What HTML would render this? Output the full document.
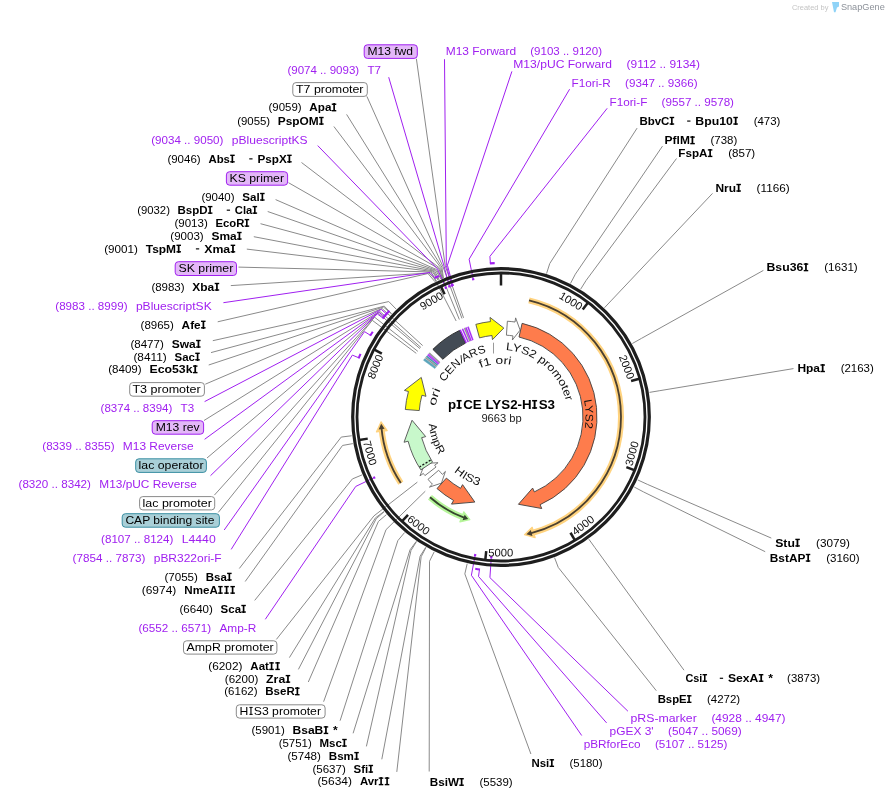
<!DOCTYPE html>
<html><head><meta charset="utf-8"><style>html,body{margin:0;padding:0;background:#fff;width:889px;height:799px;overflow:hidden}</style></head>
<body>
<svg width="889" height="799" viewBox="0 0 889 799" style="will-change:transform;position:absolute;left:0;top:0;font-family:'Liberation Sans',sans-serif">
<rect width="889" height="799" fill="#fff"/>
<g fill="none" stroke="#8a8a8a" stroke-width="1">
<path d="M416.4,58.8 L445.23,265.97 L463.57,317.83"/>
<path d="M366.9,96.4 L443.03,266.8 L461.96,318.45"/>
<path d="M346.6,114.4 L441.93,267.23 L443.4,277.96"/>
<path d="M333.9,126.5 L440.83,267.66 L443.04,278.11"/>
<path d="M301.5,162.5 L439.74,268.11 L442.23,278.45"/>
<path d="M288.5,182.7 L438.65,268.56 L459.35,319.52"/>
<path d="M275.6,199.6 L436.49,269.49 L441.69,278.68"/>
<path d="M267.7,211.5 L435.41,269.97 L440.97,278.99"/>
<path d="M260.5,223.7 L434.33,270.45 L439.27,279.74"/>
<path d="M253.8,236.7 L433.26,270.94 L438.38,280.15"/>
<path d="M246.8,249.1 L432.2,271.44 L438.2,280.23"/>
<path d="M238.5,267.1 L431.13,271.95 L456.14,320.96"/>
<path d="M230.8,285.6 L429.02,272.99 L436.6,280.97"/>
<path d="M217.7,321.8 L427.96,273.52 L435.01,281.74"/>
<path d="M212.8,340.7 L388.79,301.55 L396.1,309.08"/>
<path d="M211,352.6 L384.27,306.12 L391.57,313.68"/>
<path d="M208.7,365 L383.46,306.97 L391.44,313.82"/>
<path d="M205.3,384.2 L382.06,308.49 L422.66,345.59"/>
<path d="M204,420.5 L379.62,311.22 L420.97,347.5"/>
<path d="M207,458 L378.08,313.02 L419.98,348.65"/>
<path d="M214.4,495.1 L374.63,317.24 L417.8,351.32"/>
<path d="M218.3,512.4 L372.27,320.31 L416.25,353.34"/>
<path d="M239.3,568.5 L341.26,437.07 L351.67,435.76"/>
<path d="M245.2,581.5 L342.53,445.46 L352.87,443.6"/>
<path d="M254.7,600.4 L352.39,478.93 L362.08,474.89"/>
<path d="M276.4,639.4 L373.95,515.9 L417.36,482.11"/>
<path d="M289.4,657.6 L375.47,517.81 L383.94,511.59"/>
<path d="M298.4,669.4 L376.21,518.73 L384.07,511.75"/>
<path d="M308.3,682 L378.45,521.41 L386.44,514.61"/>
<path d="M323.6,701.7 L386.01,529.68 L425.29,491.19"/>
<path d="M340.1,720.7 L397.85,540.61 L404.57,532.55"/>
<path d="M353.1,733.3 L410.02,549.83 L416.28,541.39"/>
<path d="M366.4,746.4 L410.99,550.49 L416.53,541.56"/>
<path d="M381.8,759.3 L420.1,556.2 L425.73,547.32"/>
<path d="M396.8,771.9 L421.13,556.79 L425.98,547.47"/>
<path d="M637.1,128.1 L549.74,263.55 L546.56,273.56"/>
<path d="M662.5,146.1 L575.33,274.18 L570.48,283.5"/>
<path d="M676.5,158.5 L586.15,280.36 L580.59,289.27"/>
<path d="M712.5,193.4 L611.7,300.1 L604.48,307.72"/>
<path d="M763.4,270.4 L641.49,338.37 L632.33,343.49"/>
<path d="M793.5,368.6 L659.83,390.66 L649.47,392.38"/>
<path d="M771.3,538.1 L647.26,484.3 L637.72,479.91"/>
<path d="M765.2,551.7 L643.51,491.91 L634.22,487.02"/>
<path d="M684,670.2 L594.97,547.73 L588.84,539.2"/>
<path d="M656.3,690.7 L558.29,567.46 L554.55,557.65"/>
<path d="M530.9,754 L464.83,573.88 L467.19,563.65"/>
<path d="M429.2,771.5 L429.52,561.26 L434.18,551.85"/>
</g>
<g fill="none" stroke="#a020f0" stroke-width="1">
<path d="M388.7,77.2 L444.13,266.38 L449.3,286.36"/>
<path d="M317.7,145.6 L437.57,269.02 L445.8,287.8"/>
<path d="M223.4,302.7 L430.07,272.47 L435.1,277.81"/>
<path d="M204.6,401.6 L381.27,309.37 L386.52,314"/>
<path d="M204.6,439.3 L378.85,312.12 L384.2,316.63"/>
<path d="M210.5,475.7 L377.33,313.92 L382.97,318.08"/>
<path d="M224.2,530 L364.51,331.61 L370.44,335.32"/>
<path d="M231.2,549.4 L352.37,355.12 L358.83,357.81"/>
<path d="M265.3,619.3 L355.74,486.43 L374.24,477.59"/>
<path d="M444.5,59.2 L446.34,265.56 L451.69,285.44"/>
<path d="M511.9,71.4 L447.45,265.17 L452.67,285.07"/>
<path d="M569.6,89.2 L469.13,259.19 L473.18,279.28"/>
<path d="M607.2,108.3 L489.91,256.38 L490.39,263.37"/>
<path d="M627.9,711.2 L489.91,577.62 L491.32,557.17"/>
<path d="M606.6,722.9 L478.51,576.42 L479.49,569.49"/>
<path d="M581.7,735.5 L471.39,575.25 L475.16,555.1"/>
</g>
<g fill="none" stroke="#a020f0" stroke-width="2.1">
<path d="M448.28,286.77 A140.5,140.5 0 0 1 450.33,285.95"/>
<path d="M444.78,288.24 A140.5,140.5 0 0 1 446.81,287.37"/>
<path d="M434.62,278.04 A154,154 0 0 1 439.02,276.02"/>
<path d="M386.16,314.4 A154,154 0 0 1 389.44,310.84"/>
<path d="M383.85,317.04 A154,154 0 0 1 387.05,313.41"/>
<path d="M382.63,318.49 A154,154 0 0 1 385.78,314.82"/>
<path d="M370.16,335.78 A154,154 0 0 1 372.78,331.71"/>
<path d="M358.62,358.3 A154,154 0 0 1 360.54,353.86"/>
<path d="M374.72,478.59 A140.5,140.5 0 0 1 373.77,476.6"/>
<path d="M450.66,285.83 A140.5,140.5 0 0 1 452.72,285.05"/>
<path d="M451.64,285.46 A140.5,140.5 0 0 1 453.71,284.7"/>
<path d="M472.1,279.5 A140.5,140.5 0 0 1 474.27,279.07"/>
<path d="M489.86,263.4 A154,154 0 0 1 494.69,263.13"/>
<path d="M492.42,557.24 A140.5,140.5 0 0 1 490.22,557.09"/>
<path d="M480.02,569.56 A154,154 0 0 1 475.24,568.83"/>
<path d="M476.24,555.3 A140.5,140.5 0 0 1 474.07,554.9"/>
</g>
<circle cx="501" cy="417" r="148.3" fill="none" stroke="#1e1e1e" stroke-width="3.2"/>
<circle cx="501" cy="417" r="144.0" fill="none" stroke="#1e1e1e" stroke-width="2.8"/>
<g stroke="#1e1e1e" stroke-width="2.5">
<line x1="501" y1="273.5" x2="501" y2="285.5"/>
<line x1="587.87" y1="302.78" x2="582.73" y2="309.55"/>
<line x1="639.29" y1="378.68" x2="631.1" y2="380.95"/>
<line x1="634.27" y1="470.21" x2="626.37" y2="467.06"/>
<line x1="574.86" y1="540.03" x2="570.49" y2="532.74"/>
<line x1="485.31" y1="559.64" x2="486.24" y2="551.19"/>
<line x1="402.16" y1="521.03" x2="408.02" y2="514.87"/>
<line x1="359.35" y1="439.97" x2="367.74" y2="438.61"/>
<line x1="374.35" y1="349.53" x2="381.85" y2="353.53"/>
<line x1="441.04" y1="286.63" x2="444.59" y2="294.35"/>
</g>
<text x="0" y="0" transform="translate(570.95,300.84) rotate(31.06)" text-anchor="middle" dominant-baseline="central" font-size="11" textLength="25" lengthAdjust="spacingAndGlyphs" fill="#111">1000</text>
<text x="0" y="0" transform="translate(627,366.89) rotate(68.31)" text-anchor="middle" dominant-baseline="central" font-size="11" textLength="25" lengthAdjust="spacingAndGlyphs" fill="#111">2000</text>
<text x="0" y="0" transform="translate(631.63,453.39) rotate(-74.43)" text-anchor="middle" dominant-baseline="central" font-size="11" textLength="25" lengthAdjust="spacingAndGlyphs" fill="#111">3000</text>
<text x="0" y="0" transform="translate(582.94,525.04) rotate(-37.18)" text-anchor="middle" dominant-baseline="central" font-size="11" textLength="25" lengthAdjust="spacingAndGlyphs" fill="#111">4000</text>
<text x="0" y="0" transform="translate(500.82,552.6) rotate(0.08)" text-anchor="middle" dominant-baseline="central" font-size="11" textLength="25" lengthAdjust="spacingAndGlyphs" fill="#111">5000</text>
<text x="0" y="0" transform="translate(418.77,524.82) rotate(37.33)" text-anchor="middle" dominant-baseline="central" font-size="11" textLength="25" lengthAdjust="spacingAndGlyphs" fill="#111">6000</text>
<text x="0" y="0" transform="translate(370.28,453.04) rotate(74.59)" text-anchor="middle" dominant-baseline="central" font-size="11" textLength="25" lengthAdjust="spacingAndGlyphs" fill="#111">7000</text>
<text x="0" y="0" transform="translate(375.14,366.55) rotate(-68.16)" text-anchor="middle" dominant-baseline="central" font-size="11" textLength="25" lengthAdjust="spacingAndGlyphs" fill="#111">8000</text>
<text x="0" y="0" transform="translate(431.36,300.65) rotate(-30.9)" text-anchor="middle" dominant-baseline="central" font-size="11" textLength="25" lengthAdjust="spacingAndGlyphs" fill="#111">9000</text>
<path d="M529.01,300.32 A120,120 0 0 1 530.44,533.33" fill="none" stroke="#ffd37f" stroke-width="6" stroke-linecap="butt"/>
<path d="M535.14,537.66 L524.51,534.67 L532.2,527.27 Z" fill="#ffd37f" stroke="#ffd37f" stroke-width="1.2" stroke-linejoin="round"/>
<path d="M529.01,300.32 A120,120 0 0 1 530.44,533.33" fill="none" stroke="#4b4030" stroke-width="1.8"/>
<path d="M532.42,535.92 L526.36,534.29 L530.89,530.12 Z" fill="#4b4030"/>
<path d="M400.82,483.06 A120,120 0 0 1 381.49,427.88" fill="none" stroke="#ffd37f" stroke-width="6" stroke-linecap="butt"/>
<path d="M376.48,431.85 L381.1,421.82 L387.21,430.57 Z" fill="#ffd37f" stroke="#ffd37f" stroke-width="1.2" stroke-linejoin="round"/>
<path d="M400.82,483.06 A120,120 0 0 1 381.49,427.88" fill="none" stroke="#4b4030" stroke-width="1.8"/>
<path d="M378.63,429.43 L381.19,423.7 L384.6,428.82 Z" fill="#4b4030"/>
<path d="M464.69,517.86 A107.2,107.2 0 0 1 429.97,497.29" fill="none" stroke="#b6f59a" stroke-width="6" stroke-linecap="butt"/>
<path d="M459.91,521.84 L469.84,519.57 L463.86,511.78 Z" fill="#b6f59a" stroke="#b6f59a" stroke-width="1.2" stroke-linejoin="round"/>
<path d="M464.69,517.86 A107.2,107.2 0 0 1 429.97,497.29" fill="none" stroke="#35452d" stroke-width="1.8"/>
<path d="M462.59,520.29 L468.23,519.07 L464.68,514.66 Z" fill="#35452d"/>
<path d="M424.94,475.57 A96,96 0 0 1 423.33,473.43 L419.94,475.9 L425.03,463.37 L438.06,462.73 L434.66,465.2 A82,82 0 0 0 436.03,467.03 Z" fill="#ffffff" stroke="#6a6a6a" stroke-width="0.9" stroke-linejoin="miter"/>
<path d="M420.85,469.85 A96,96 0 0 1 408.1,441.2 L404.04,442.26 L412.06,420.26 L425.71,436.61 L421.65,437.67 A82,82 0 0 0 432.54,462.14 Z" fill="#c8f8cb" stroke="#505050" stroke-width="0.9" stroke-linejoin="miter"/>
<line x1="430.57" y1="460.16" x2="419.66" y2="466.85" stroke="#111" stroke-width="1.3" stroke-dasharray="2.2,1.5"/>
<path d="M428,479.35 A96,96 0 0 0 432.41,484.17 L429.41,487.11 L441.45,483.14 L445.41,471.43 L442.41,474.37 A82,82 0 0 1 438.65,470.25 Z" fill="#ffffff" stroke="#6a6a6a" stroke-width="0.9" stroke-linejoin="miter"/>
<path d="M437.01,488.57 A96,96 0 0 0 453.58,500.47 L451.51,504.12 L474.83,502.07 L462.57,484.65 L460.5,488.3 A82,82 0 0 1 446.34,478.13 Z" fill="#fe7c4c" stroke="#404040" stroke-width="0.9" stroke-linejoin="miter"/>
<path d="M522.11,323.35 A96,96 0 0 1 540.05,504.7 L541.76,508.54 L518.44,504.27 L532.64,488.07 L534.35,491.91 A82,82 0 0 0 519.03,337.01 Z" fill="#fe7c4c" stroke="#404040" stroke-width="0.9" stroke-linejoin="miter"/>
<path d="M507.36,321.21 A96,96 0 0 1 515.02,322.03 L515.64,317.87 L520.11,330.08 L512.37,340.03 L512.98,335.88 A82,82 0 0 0 506.43,335.18 Z" fill="#ffffff" stroke="#6a6a6a" stroke-width="0.9" stroke-linejoin="miter"/>
<path d="M475.83,324.36 A96,96 0 0 1 490.47,321.58 L490,317.41 L503.8,328.04 L492.46,339.67 L492,335.5 A82,82 0 0 0 479.5,337.87 Z" fill="#ffff00" stroke="#505050" stroke-width="0.9" stroke-linejoin="miter"/>
<path d="M405.3,409.47 A96,96 0 0 1 408.45,391.51 L404.4,390.39 L421.28,377.43 L425.99,396.34 L421.94,395.22 A82,82 0 0 0 419.25,410.57 Z" fill="#ffff00" stroke="#505050" stroke-width="0.9" stroke-linejoin="miter"/>
<path d="M432.88,349.36 A96,96 0 0 1 459.52,330.42 L465.57,343.05 A82,82 0 0 0 442.82,359.22 Z" fill="#434b55" stroke="#222" stroke-width="0.9" stroke-linejoin="miter"/>
<path d="M423.53,360.3 A96,96 0 0 1 424.84,358.56 L435.95,367.08 A82,82 0 0 0 434.83,368.57 Z" fill="#5aa5bb" stroke="#5aa5bb" stroke-width="0.5"/>
<path d="M425.25,358.03 A96,96 0 0 1 425.87,357.24 L436.83,365.95 A82,82 0 0 0 436.3,366.63 Z" fill="#8c8c8c" stroke="#8c8c8c" stroke-width="0.5"/>
<path d="M426.29,356.72 A96,96 0 0 1 427.03,355.81 L437.82,364.73 A82,82 0 0 0 437.18,365.51 Z" fill="#3d93a8" stroke="#3d93a8" stroke-width="0.5"/>
<path d="M427.46,355.29 A96,96 0 0 1 428,354.65 L438.65,363.75 A82,82 0 0 0 438.18,364.29 Z" fill="#a020f0" stroke="#a020f0" stroke-width="0.5"/>
<path d="M428.22,354.4 A96,96 0 0 1 428.77,353.77 L439.3,362.99 A82,82 0 0 0 438.83,363.53 Z" fill="#b040f5" stroke="#b040f5" stroke-width="0.5"/>
<path d="M429.1,353.39 A96,96 0 0 1 429.66,352.76 L440.06,362.13 A82,82 0 0 0 439.59,362.67 Z" fill="#8c8c8c" stroke="#8c8c8c" stroke-width="0.5"/>
<path d="M459.82,330.28 A96,96 0 0 1 460.73,329.85 L466.6,342.56 A82,82 0 0 0 465.83,342.93 Z" fill="#a020f0" stroke="#a020f0" stroke-width="0.5"/>
<path d="M462.11,329.23 A96,96 0 0 1 463.03,328.83 L468.57,341.69 A82,82 0 0 0 467.78,342.03 Z" fill="#a020f0" stroke="#a020f0" stroke-width="0.5"/>
<path d="M464.11,328.37 A96,96 0 0 1 465.04,327.99 L470.28,340.97 A82,82 0 0 0 469.49,341.3 Z" fill="#8c8c8c" stroke="#8c8c8c" stroke-width="0.5"/>
<path d="M465.5,327.8 A96,96 0 0 1 466.44,327.44 L471.48,340.5 A82,82 0 0 0 470.68,340.81 Z" fill="#a020f0" stroke="#a020f0" stroke-width="0.5"/>
<path d="M467.54,327.02 A96,96 0 0 1 468.48,326.68 L473.22,339.85 A82,82 0 0 0 472.42,340.14 Z" fill="#a020f0" stroke="#a020f0" stroke-width="0.5"/>
<text font-size="11" fill="#111"><textPath href="#tp1" startOffset="50%" text-anchor="middle" textLength="52.5" lengthAdjust="spacingAndGlyphs">CEN<tspan rotate="14">/</tspan>ARS</textPath></text>
<text font-size="11" fill="#111"><textPath href="#tp2" startOffset="50%" text-anchor="middle" textLength="31" lengthAdjust="spacingAndGlyphs">f1 ori</textPath></text>
<text font-size="11" fill="#111"><textPath href="#tp3" startOffset="50%" text-anchor="middle" textLength="84.4" lengthAdjust="spacingAndGlyphs">LYS2 promoter</textPath></text>
<text font-size="11" fill="#111"><textPath href="#tp4" startOffset="50%" text-anchor="middle" textLength="28.5" lengthAdjust="spacingAndGlyphs">LYS2</textPath></text>
<text font-size="11" fill="#111"><textPath href="#tp5" startOffset="50%" text-anchor="middle" textLength="17.5" lengthAdjust="spacingAndGlyphs">ori</textPath></text>
<text font-size="11" fill="#111"><textPath href="#tp6" startOffset="50%" text-anchor="middle" textLength="33" lengthAdjust="spacingAndGlyphs">AmpR</textPath></text>
<text font-size="11" fill="#111"><textPath href="#tp7" startOffset="50%" text-anchor="middle" textLength="28.8" lengthAdjust="spacingAndGlyphs">HIS3</textPath></text>
<line x1="493.5" y1="353.5" x2="493.5" y2="342.7" stroke="#9a9a9a" stroke-width="1"/>
<text class="sb" x="448" y="408.7" textLength="107" lengthAdjust="spacingAndGlyphs" font-size="12.2" fill="#000" font-weight="bold">p I CE LYS2-H I S3</text>
<text x="481.4" y="421.6" textLength="40.3" lengthAdjust="spacingAndGlyphs" font-size="10.6" fill="#222">9663 bp</text>
<rect x="364.2" y="44.8" width="53.1" height="13.6" rx="3.2" fill="#e3b7f8" stroke="#a020f0" stroke-width="1"/>
<text x="367.5" y="54.7" textLength="45.5" lengthAdjust="spacingAndGlyphs" font-size="11" fill="#000">M13 fwd</text>
<text x="287.4" y="74" textLength="71.76" lengthAdjust="spacingAndGlyphs" font-size="11" fill="#a020f0">(9074 .. 9093)</text>
<text x="367.44" y="74" textLength="13.56" lengthAdjust="spacingAndGlyphs" font-size="11" fill="#a020f0">T7</text>
<rect x="292.8" y="82.6" width="74.5" height="13.8" rx="3.2" fill="#ffffff" stroke="#8a8a8a" stroke-width="1"/>
<text x="296" y="93" textLength="67.5" lengthAdjust="spacingAndGlyphs" font-size="11" fill="#000">T7 promoter</text>
<text x="268.5" y="111.4" textLength="33.1" lengthAdjust="spacingAndGlyphs" font-size="11" fill="#000">(9059)</text>
<text class="sb" x="309.32" y="111.4" textLength="28.28" lengthAdjust="spacingAndGlyphs" font-size="11" fill="#000" font-weight="bold">Apa I </text>
<text x="237.2" y="124.7" textLength="32.97" lengthAdjust="spacingAndGlyphs" font-size="11" fill="#000">(9055)</text>
<text class="sb" x="277.86" y="124.7" textLength="47.14" lengthAdjust="spacingAndGlyphs" font-size="11" fill="#000" font-weight="bold">PspOM I </text>
<text x="151.2" y="144.2" textLength="72.25" lengthAdjust="spacingAndGlyphs" font-size="11" fill="#a020f0">(9034 .. 9050)</text>
<text x="231.8" y="144.2" textLength="75.8" lengthAdjust="spacingAndGlyphs" font-size="11" fill="#a020f0">pBluescriptKS</text>
<text x="167.4" y="162.5" textLength="33.26" lengthAdjust="spacingAndGlyphs" font-size="11" fill="#000">(9046)</text>
<text class="sb" x="208.41" y="162.5" textLength="27.52" lengthAdjust="spacingAndGlyphs" font-size="11" fill="#000" font-weight="bold">Abs I </text>
<rect x="249.24" y="158.3" width="3.3" height="1.15" fill="#000"/>
<text class="sb" x="257.49" y="162.5" textLength="35.51" lengthAdjust="spacingAndGlyphs" font-size="11" fill="#000" font-weight="bold">PspX I </text>
<rect x="226.4" y="171.7" width="61.2" height="13.5" rx="3.2" fill="#e3b7f8" stroke="#a020f0" stroke-width="1"/>
<text x="229.5" y="181.6" textLength="54.5" lengthAdjust="spacingAndGlyphs" font-size="11" fill="#000">KS primer</text>
<text x="201.4" y="200.7" textLength="33.18" lengthAdjust="spacingAndGlyphs" font-size="11" fill="#000">(9040)</text>
<text class="sb" x="242.32" y="200.7" textLength="23.58" lengthAdjust="spacingAndGlyphs" font-size="11" fill="#000" font-weight="bold">Sal I </text>
<text x="137.2" y="213.8" textLength="32.73" lengthAdjust="spacingAndGlyphs" font-size="11" fill="#000">(9032)</text>
<text class="sb" x="177.56" y="213.8" textLength="36.11" lengthAdjust="spacingAndGlyphs" font-size="11" fill="#000" font-weight="bold">BspD I </text>
<rect x="226.75" y="209.6" width="3.3" height="1.15" fill="#000"/>
<text class="sb" x="234.89" y="213.8" textLength="23.41" lengthAdjust="spacingAndGlyphs" font-size="11" fill="#000" font-weight="bold">Cla I </text>
<text x="174.4" y="226.8" textLength="33.35" lengthAdjust="spacingAndGlyphs" font-size="11" fill="#000">(9013)</text>
<text class="sb" x="215.52" y="226.8" textLength="34.88" lengthAdjust="spacingAndGlyphs" font-size="11" fill="#000" font-weight="bold">EcoR I </text>
<text x="170.3" y="239.7" textLength="33.36" lengthAdjust="spacingAndGlyphs" font-size="11" fill="#000">(9003)</text>
<text class="sb" x="211.43" y="239.7" textLength="31.57" lengthAdjust="spacingAndGlyphs" font-size="11" fill="#000" font-weight="bold">Sma I </text>
<text x="104.2" y="252.5" textLength="33.7" lengthAdjust="spacingAndGlyphs" font-size="11" fill="#000">(9001)</text>
<text class="sb" x="145.75" y="252.5" textLength="36.64" lengthAdjust="spacingAndGlyphs" font-size="11" fill="#000" font-weight="bold">TspM I </text>
<rect x="195.89" y="248.3" width="3.3" height="1.15" fill="#000"/>
<text class="sb" x="204.23" y="252.5" textLength="32.47" lengthAdjust="spacingAndGlyphs" font-size="11" fill="#000" font-weight="bold">Xma I </text>
<rect x="175.2" y="261.7" width="61.3" height="13.8" rx="3.2" fill="#e3b7f8" stroke="#a020f0" stroke-width="1"/>
<text x="178.4" y="272" textLength="54.9" lengthAdjust="spacingAndGlyphs" font-size="11" fill="#000">SK primer</text>
<text x="151.4" y="290.7" textLength="33.16" lengthAdjust="spacingAndGlyphs" font-size="11" fill="#000">(8983)</text>
<text class="sb" x="192.29" y="290.7" textLength="28.31" lengthAdjust="spacingAndGlyphs" font-size="11" fill="#000" font-weight="bold">Xba I </text>
<text x="55.3" y="309.9" textLength="72.25" lengthAdjust="spacingAndGlyphs" font-size="11" fill="#a020f0">(8983 .. 8999)</text>
<text x="135.9" y="309.9" textLength="75.8" lengthAdjust="spacingAndGlyphs" font-size="11" fill="#a020f0">pBluescriptSK</text>
<text x="140.6" y="328.5" textLength="33.25" lengthAdjust="spacingAndGlyphs" font-size="11" fill="#000">(8965)</text>
<text class="sb" x="181.6" y="328.5" textLength="25.3" lengthAdjust="spacingAndGlyphs" font-size="11" fill="#000" font-weight="bold">Afe I </text>
<text x="130.4" y="347.7" textLength="33.46" lengthAdjust="spacingAndGlyphs" font-size="11" fill="#000">(8477)</text>
<text class="sb" x="171.66" y="347.7" textLength="30.34" lengthAdjust="spacingAndGlyphs" font-size="11" fill="#000" font-weight="bold">Swa I </text>
<text x="133.4" y="360.5" textLength="33.33" lengthAdjust="spacingAndGlyphs" font-size="11" fill="#000">(8411)</text>
<text class="sb" x="174.5" y="360.5" textLength="26.5" lengthAdjust="spacingAndGlyphs" font-size="11" fill="#000" font-weight="bold">Sac I </text>
<text x="108.2" y="373.3" textLength="33.48" lengthAdjust="spacingAndGlyphs" font-size="11" fill="#000">(8409)</text>
<text class="sb" x="149.48" y="373.3" textLength="49.52" lengthAdjust="spacingAndGlyphs" font-size="11" fill="#000" font-weight="bold">Eco53k I </text>
<rect x="129.7" y="382.6" width="74.7" height="13.6" rx="3.2" fill="#ffffff" stroke="#8a8a8a" stroke-width="1"/>
<text x="132.4" y="393.3" textLength="68.3" lengthAdjust="spacingAndGlyphs" font-size="11" fill="#000">T3 promoter</text>
<text x="100.6" y="411.9" textLength="71.76" lengthAdjust="spacingAndGlyphs" font-size="11" fill="#a020f0">(8374 .. 8394)</text>
<text x="180.64" y="411.9" textLength="13.56" lengthAdjust="spacingAndGlyphs" font-size="11" fill="#a020f0">T3</text>
<rect x="152.2" y="420.7" width="51.4" height="13.5" rx="3.2" fill="#e3b7f8" stroke="#a020f0" stroke-width="1"/>
<text x="155.7" y="431" textLength="43.9" lengthAdjust="spacingAndGlyphs" font-size="11" fill="#000">M13 rev</text>
<text x="42.3" y="449.7" textLength="72.23" lengthAdjust="spacingAndGlyphs" font-size="11" fill="#a020f0">(8339 .. 8355)</text>
<text x="122.87" y="449.7" textLength="70.83" lengthAdjust="spacingAndGlyphs" font-size="11" fill="#a020f0">M13 Reverse</text>
<rect x="135.7" y="458.8" width="70.7" height="13.6" rx="3.2" fill="#a9cfd7" stroke="#3a8fa3" stroke-width="1"/>
<text x="138.6" y="469.2" textLength="64.9" lengthAdjust="spacingAndGlyphs" font-size="11" fill="#000">lac operator</text>
<text x="18.5" y="487.9" textLength="72.48" lengthAdjust="spacingAndGlyphs" font-size="11" fill="#a020f0">(8320 .. 8342)</text>
<text x="99.35" y="487.9" textLength="97.45" lengthAdjust="spacingAndGlyphs" font-size="11" fill="#a020f0">M13/pUC Reverse</text>
<rect x="139.6" y="496.6" width="75.1" height="13.3" rx="3.2" fill="#ffffff" stroke="#8a8a8a" stroke-width="1"/>
<text x="142.5" y="506.7" textLength="69.3" lengthAdjust="spacingAndGlyphs" font-size="11" fill="#000">lac promoter</text>
<rect x="122.2" y="513.7" width="97.2" height="13.5" rx="3.2" fill="#a9cfd7" stroke="#3a8fa3" stroke-width="1"/>
<text x="125.4" y="523.6" textLength="89" lengthAdjust="spacingAndGlyphs" font-size="11" fill="#000">CAP binding site</text>
<text x="101.1" y="543" textLength="72.28" lengthAdjust="spacingAndGlyphs" font-size="11" fill="#a020f0">(8107 .. 8124)</text>
<text x="181.73" y="543" textLength="33.97" lengthAdjust="spacingAndGlyphs" font-size="11" fill="#a020f0">L4440</text>
<text x="72.6" y="561.6" textLength="72.72" lengthAdjust="spacingAndGlyphs" font-size="11" fill="#a020f0">(7854 .. 7873)</text>
<text x="153.72" y="561.6" textLength="67.88" lengthAdjust="spacingAndGlyphs" font-size="11" fill="#a020f0">pBR322ori-F</text>
<text x="164.4" y="580.6" textLength="33.53" lengthAdjust="spacingAndGlyphs" font-size="11" fill="#000">(7055)</text>
<text class="sb" x="205.74" y="580.6" textLength="27.16" lengthAdjust="spacingAndGlyphs" font-size="11" fill="#000" font-weight="bold">Bsa I </text>
<text x="141.7" y="593.8" textLength="34.6" lengthAdjust="spacingAndGlyphs" font-size="11" fill="#000">(6974)</text>
<text class="sb" x="184.36" y="593.8" textLength="51.84" lengthAdjust="spacingAndGlyphs" font-size="11" fill="#000" font-weight="bold">NmeA I  I  I </text>
<text x="179.5" y="612.7" textLength="33.33" lengthAdjust="spacingAndGlyphs" font-size="11" fill="#000">(6640)</text>
<text class="sb" x="220.6" y="612.7" textLength="26.5" lengthAdjust="spacingAndGlyphs" font-size="11" fill="#000" font-weight="bold">Sca I </text>
<text x="138.4" y="632.1" textLength="72.65" lengthAdjust="spacingAndGlyphs" font-size="11" fill="#a020f0">(6552 .. 6571)</text>
<text x="219.44" y="632.1" textLength="36.86" lengthAdjust="spacingAndGlyphs" font-size="11" fill="#a020f0">Amp-R</text>
<rect x="183.5" y="640.8" width="93.4" height="13.3" rx="3.2" fill="#ffffff" stroke="#8a8a8a" stroke-width="1"/>
<text x="186.6" y="650.5" textLength="87" lengthAdjust="spacingAndGlyphs" font-size="11" fill="#000">AmpR promoter</text>
<text x="208.3" y="670.1" textLength="34.13" lengthAdjust="spacingAndGlyphs" font-size="11" fill="#000">(6202)</text>
<text class="sb" x="250.39" y="670.1" textLength="30.71" lengthAdjust="spacingAndGlyphs" font-size="11" fill="#000" font-weight="bold">Aat I  I </text>
<text x="224.8" y="682.8" textLength="33.51" lengthAdjust="spacingAndGlyphs" font-size="11" fill="#000">(6200)</text>
<text class="sb" x="266.13" y="682.8" textLength="25.57" lengthAdjust="spacingAndGlyphs" font-size="11" fill="#000" font-weight="bold">Zra I </text>
<text x="224.3" y="695.4" textLength="33.21" lengthAdjust="spacingAndGlyphs" font-size="11" fill="#000">(6162)</text>
<text class="sb" x="265.25" y="695.4" textLength="35.55" lengthAdjust="spacingAndGlyphs" font-size="11" fill="#000" font-weight="bold">BseR I </text>
<rect x="236.3" y="704.8" width="88.8" height="13.3" rx="3.2" fill="#ffffff" stroke="#8a8a8a" stroke-width="1"/>
<text class="sr" x="239.5" y="714.8" textLength="81.5" lengthAdjust="spacingAndGlyphs" font-size="11" fill="#000">H I S3 promoter</text>
<text x="251.5" y="734.1" textLength="33.24" lengthAdjust="spacingAndGlyphs" font-size="11" fill="#000">(5901)</text>
<text class="sb" x="292.49" y="734.1" textLength="45.21" lengthAdjust="spacingAndGlyphs" font-size="11" fill="#000" font-weight="bold">BsaB I  *</text>
<text x="278.7" y="746.7" textLength="33.1" lengthAdjust="spacingAndGlyphs" font-size="11" fill="#000">(5751)</text>
<text class="sb" x="319.51" y="746.7" textLength="28.49" lengthAdjust="spacingAndGlyphs" font-size="11" fill="#000" font-weight="bold">Msc I </text>
<text x="287.4" y="759.8" textLength="33.55" lengthAdjust="spacingAndGlyphs" font-size="11" fill="#000">(5748)</text>
<text class="sb" x="328.77" y="759.8" textLength="31.33" lengthAdjust="spacingAndGlyphs" font-size="11" fill="#000" font-weight="bold">Bsm I </text>
<text x="312.4" y="772.7" textLength="33.45" lengthAdjust="spacingAndGlyphs" font-size="11" fill="#000">(5637)</text>
<text class="sb" x="353.64" y="772.7" textLength="20.66" lengthAdjust="spacingAndGlyphs" font-size="11" fill="#000" font-weight="bold">Sfi I </text>
<text x="317.4" y="785.3" textLength="34.51" lengthAdjust="spacingAndGlyphs" font-size="11" fill="#000">(5634)</text>
<text class="sb" x="359.95" y="785.3" textLength="30.55" lengthAdjust="spacingAndGlyphs" font-size="11" fill="#000" font-weight="bold">Avr I  I </text>
<text x="445.7" y="55.2" textLength="70.38" lengthAdjust="spacingAndGlyphs" font-size="11" fill="#a020f0">M13 Forward</text>
<text x="530.25" y="55.2" textLength="71.75" lengthAdjust="spacingAndGlyphs" font-size="11" fill="#a020f0">(9103 .. 9120)</text>
<text x="513.3" y="67.9" textLength="98.76" lengthAdjust="spacingAndGlyphs" font-size="11" fill="#a020f0">M13/pUC Forward</text>
<text x="626.56" y="67.9" textLength="73.44" lengthAdjust="spacingAndGlyphs" font-size="11" fill="#a020f0">(9112 .. 9134)</text>
<text x="571.6" y="87" textLength="39.18" lengthAdjust="spacingAndGlyphs" font-size="11" fill="#a020f0">F1ori-R</text>
<text x="625.11" y="87" textLength="72.49" lengthAdjust="spacingAndGlyphs" font-size="11" fill="#a020f0">(9347 .. 9366)</text>
<text x="609.5" y="105.6" textLength="37.81" lengthAdjust="spacingAndGlyphs" font-size="11" fill="#a020f0">F1ori-F</text>
<text x="661.61" y="105.6" textLength="72.39" lengthAdjust="spacingAndGlyphs" font-size="11" fill="#a020f0">(9557 .. 9578)</text>
<text class="sb" x="639.4" y="124.7" textLength="36.02" lengthAdjust="spacingAndGlyphs" font-size="11" fill="#000" font-weight="bold">BbvC I </text>
<rect x="687.15" y="120.5" width="3.3" height="1.15" fill="#000"/>
<text class="sb" x="695.36" y="124.7" textLength="44.01" lengthAdjust="spacingAndGlyphs" font-size="11" fill="#000" font-weight="bold">Bpu10 I </text>
<text x="753.68" y="124.7" textLength="26.72" lengthAdjust="spacingAndGlyphs" font-size="11" fill="#000">(473)</text>
<text class="sb" x="664.6" y="144.3" textLength="31.6" lengthAdjust="spacingAndGlyphs" font-size="11" fill="#000" font-weight="bold">PflM I </text>
<text x="710.5" y="144.3" textLength="26.7" lengthAdjust="spacingAndGlyphs" font-size="11" fill="#000">(738)</text>
<text class="sb" x="678.3" y="157.1" textLength="35.37" lengthAdjust="spacingAndGlyphs" font-size="11" fill="#000" font-weight="bold">FspA I </text>
<text x="728.16" y="157.1" textLength="27.04" lengthAdjust="spacingAndGlyphs" font-size="11" fill="#000">(857)</text>
<text class="sb" x="715.4" y="191.7" textLength="26.9" lengthAdjust="spacingAndGlyphs" font-size="11" fill="#000" font-weight="bold">Nru I </text>
<text x="756.63" y="191.7" textLength="33.07" lengthAdjust="spacingAndGlyphs" font-size="11" fill="#000">(1166)</text>
<text class="sb" x="766.5" y="271.3" textLength="43.22" lengthAdjust="spacingAndGlyphs" font-size="11" fill="#000" font-weight="bold">Bsu36 I </text>
<text x="824.23" y="271.3" textLength="33.47" lengthAdjust="spacingAndGlyphs" font-size="11" fill="#000">(1631)</text>
<text class="sb" x="797.4" y="372.2" textLength="28.94" lengthAdjust="spacingAndGlyphs" font-size="11" fill="#000" font-weight="bold">Hpa I </text>
<text x="840.66" y="372.2" textLength="33.04" lengthAdjust="spacingAndGlyphs" font-size="11" fill="#000">(2163)</text>
<text class="sb" x="775.2" y="546.6" textLength="26.11" lengthAdjust="spacingAndGlyphs" font-size="11" fill="#000" font-weight="bold">Stu I </text>
<text x="816.03" y="546.6" textLength="33.97" lengthAdjust="spacingAndGlyphs" font-size="11" fill="#000">(3079)</text>
<text class="sb" x="769.8" y="561.7" textLength="41.86" lengthAdjust="spacingAndGlyphs" font-size="11" fill="#000" font-weight="bold">BstAP I </text>
<text x="826.15" y="561.7" textLength="33.45" lengthAdjust="spacingAndGlyphs" font-size="11" fill="#000">(3160)</text>
<text class="sb" x="685.5" y="681.9" textLength="22.62" lengthAdjust="spacingAndGlyphs" font-size="11" fill="#000" font-weight="bold">Csi I </text>
<rect x="719.79" y="677.7" width="3.3" height="1.15" fill="#000"/>
<text class="sb" x="727.96" y="681.9" textLength="44.95" lengthAdjust="spacingAndGlyphs" font-size="11" fill="#000" font-weight="bold">SexA I  *</text>
<text x="787.14" y="681.9" textLength="32.86" lengthAdjust="spacingAndGlyphs" font-size="11" fill="#000">(3873)</text>
<text class="sb" x="657.7" y="703" textLength="34.96" lengthAdjust="spacingAndGlyphs" font-size="11" fill="#000" font-weight="bold">BspE I </text>
<text x="707.03" y="703" textLength="33.17" lengthAdjust="spacingAndGlyphs" font-size="11" fill="#000">(4272)</text>
<text x="630.5" y="722" textLength="66.24" lengthAdjust="spacingAndGlyphs" font-size="11" fill="#a020f0">pRS-marker</text>
<text x="711.4" y="722" textLength="74.2" lengthAdjust="spacingAndGlyphs" font-size="11" fill="#a020f0">(4928 .. 4947)</text>
<text x="609.5" y="735.2" textLength="44.09" lengthAdjust="spacingAndGlyphs" font-size="11" fill="#a020f0">pGEX 3'</text>
<text x="668.12" y="735.2" textLength="73.58" lengthAdjust="spacingAndGlyphs" font-size="11" fill="#a020f0">(5047 .. 5069)</text>
<text x="583.7" y="747.7" textLength="56.92" lengthAdjust="spacingAndGlyphs" font-size="11" fill="#a020f0">pBRforEco</text>
<text x="654.93" y="747.7" textLength="72.47" lengthAdjust="spacingAndGlyphs" font-size="11" fill="#a020f0">(5107 .. 5125)</text>
<text class="sb" x="531.5" y="767" textLength="23.81" lengthAdjust="spacingAndGlyphs" font-size="11" fill="#000" font-weight="bold">Nsi I </text>
<text x="569.58" y="767" textLength="32.92" lengthAdjust="spacingAndGlyphs" font-size="11" fill="#000">(5180)</text>
<text class="sb" x="429.7" y="785.9" textLength="35.43" lengthAdjust="spacingAndGlyphs" font-size="11" fill="#000" font-weight="bold">BsiW I </text>
<text x="479.48" y="785.9" textLength="33.12" lengthAdjust="spacingAndGlyphs" font-size="11" fill="#000">(5539)</text>
<text x="791.9" y="10.4" textLength="36.5" lengthAdjust="spacingAndGlyphs" font-size="7.6" fill="#c4c4c4">Created by</text>
<path d="M832,2 L839,2 L839,6.5 L837,7.5 L835.5,12.3 L834,12.3 Z" fill="#8fd3f7"/>
<text x="840.9" y="10.4" textLength="43.9" lengthAdjust="spacingAndGlyphs" font-size="8.6" fill="#8c9199">SnapGene</text>
<g id="serifs"><rect x="456.61" y="399.96" width="5.00" height="1.52" fill="#000"/><rect x="456.61" y="407.18" width="5.00" height="1.52" fill="#000"/><rect x="532.10" y="399.96" width="5.00" height="1.52" fill="#000"/><rect x="532.10" y="407.18" width="5.00" height="1.52" fill="#000"/><rect x="331.76" y="103.52" width="4.51" height="1.38" fill="#000"/><rect x="331.76" y="110.03" width="4.51" height="1.38" fill="#000"/><rect x="319.11" y="116.82" width="4.51" height="1.38" fill="#000"/><rect x="319.11" y="123.33" width="4.51" height="1.38" fill="#000"/><rect x="230.19" y="154.62" width="4.51" height="1.38" fill="#000"/><rect x="230.19" y="161.12" width="4.51" height="1.38" fill="#000"/><rect x="287.16" y="154.62" width="4.51" height="1.38" fill="#000"/><rect x="287.16" y="161.12" width="4.51" height="1.38" fill="#000"/><rect x="260.09" y="192.82" width="4.51" height="1.38" fill="#000"/><rect x="260.09" y="199.32" width="4.51" height="1.38" fill="#000"/><rect x="207.90" y="205.92" width="4.51" height="1.38" fill="#000"/><rect x="207.90" y="212.43" width="4.51" height="1.38" fill="#000"/><rect x="252.60" y="205.92" width="4.51" height="1.38" fill="#000"/><rect x="252.60" y="212.43" width="4.51" height="1.38" fill="#000"/><rect x="244.68" y="218.92" width="4.51" height="1.38" fill="#000"/><rect x="244.68" y="225.43" width="4.51" height="1.38" fill="#000"/><rect x="237.09" y="231.82" width="4.51" height="1.38" fill="#000"/><rect x="237.09" y="238.32" width="4.51" height="1.38" fill="#000"/><rect x="176.48" y="244.62" width="4.51" height="1.38" fill="#000"/><rect x="176.48" y="251.12" width="4.51" height="1.38" fill="#000"/><rect x="230.68" y="244.62" width="4.51" height="1.38" fill="#000"/><rect x="230.68" y="251.12" width="4.51" height="1.38" fill="#000"/><rect x="214.68" y="282.82" width="4.51" height="1.38" fill="#000"/><rect x="214.68" y="289.32" width="4.51" height="1.38" fill="#000"/><rect x="201.03" y="320.62" width="4.51" height="1.38" fill="#000"/><rect x="201.03" y="327.12" width="4.51" height="1.38" fill="#000"/><rect x="196.07" y="339.82" width="4.51" height="1.38" fill="#000"/><rect x="196.07" y="346.32" width="4.51" height="1.38" fill="#000"/><rect x="195.22" y="352.62" width="4.51" height="1.38" fill="#000"/><rect x="195.22" y="359.12" width="4.51" height="1.38" fill="#000"/><rect x="192.98" y="365.42" width="4.51" height="1.38" fill="#000"/><rect x="192.98" y="371.93" width="4.51" height="1.38" fill="#000"/><rect x="227.12" y="572.72" width="4.51" height="1.38" fill="#000"/><rect x="227.12" y="579.23" width="4.51" height="1.38" fill="#000"/><rect x="218.16" y="585.92" width="4.51" height="1.38" fill="#000"/><rect x="218.16" y="592.42" width="4.51" height="1.38" fill="#000"/><rect x="224.28" y="585.92" width="4.51" height="1.38" fill="#000"/><rect x="224.28" y="592.42" width="4.51" height="1.38" fill="#000"/><rect x="230.39" y="585.92" width="4.51" height="1.38" fill="#000"/><rect x="230.39" y="592.42" width="4.51" height="1.38" fill="#000"/><rect x="241.32" y="604.82" width="4.51" height="1.38" fill="#000"/><rect x="241.32" y="611.33" width="4.51" height="1.38" fill="#000"/><rect x="269.25" y="662.22" width="4.51" height="1.38" fill="#000"/><rect x="269.25" y="668.73" width="4.51" height="1.38" fill="#000"/><rect x="275.32" y="662.22" width="4.51" height="1.38" fill="#000"/><rect x="275.32" y="668.73" width="4.51" height="1.38" fill="#000"/><rect x="285.68" y="674.92" width="4.51" height="1.38" fill="#000"/><rect x="285.68" y="681.42" width="4.51" height="1.38" fill="#000"/><rect x="295.02" y="687.52" width="4.51" height="1.38" fill="#000"/><rect x="295.02" y="694.02" width="4.51" height="1.38" fill="#000"/><rect x="249.39" y="706.92" width="3.30" height="0.94" fill="#000"/><rect x="249.39" y="713.87" width="3.30" height="0.94" fill="#000"/><rect x="323.71" y="726.22" width="4.51" height="1.38" fill="#000"/><rect x="323.71" y="732.73" width="4.51" height="1.38" fill="#000"/><rect x="342.21" y="738.82" width="4.51" height="1.38" fill="#000"/><rect x="342.21" y="745.33" width="4.51" height="1.38" fill="#000"/><rect x="354.29" y="751.92" width="4.51" height="1.38" fill="#000"/><rect x="354.29" y="758.42" width="4.51" height="1.38" fill="#000"/><rect x="368.54" y="764.82" width="4.51" height="1.38" fill="#000"/><rect x="368.54" y="771.33" width="4.51" height="1.38" fill="#000"/><rect x="378.77" y="777.42" width="4.51" height="1.38" fill="#000"/><rect x="378.77" y="783.92" width="4.51" height="1.38" fill="#000"/><rect x="384.77" y="777.42" width="4.51" height="1.38" fill="#000"/><rect x="384.77" y="783.92" width="4.51" height="1.38" fill="#000"/><rect x="669.66" y="116.82" width="4.51" height="1.38" fill="#000"/><rect x="669.66" y="123.33" width="4.51" height="1.38" fill="#000"/><rect x="733.35" y="116.82" width="4.51" height="1.38" fill="#000"/><rect x="733.35" y="123.33" width="4.51" height="1.38" fill="#000"/><rect x="690.28" y="136.42" width="4.51" height="1.38" fill="#000"/><rect x="690.28" y="142.93" width="4.51" height="1.38" fill="#000"/><rect x="707.84" y="149.22" width="4.51" height="1.38" fill="#000"/><rect x="707.84" y="155.72" width="4.51" height="1.38" fill="#000"/><rect x="736.39" y="183.82" width="4.51" height="1.38" fill="#000"/><rect x="736.39" y="190.32" width="4.51" height="1.38" fill="#000"/><rect x="803.72" y="263.42" width="4.51" height="1.38" fill="#000"/><rect x="803.72" y="269.93" width="4.51" height="1.38" fill="#000"/><rect x="820.42" y="364.32" width="4.51" height="1.38" fill="#000"/><rect x="820.42" y="370.82" width="4.51" height="1.38" fill="#000"/><rect x="795.32" y="538.72" width="4.51" height="1.38" fill="#000"/><rect x="795.32" y="545.23" width="4.51" height="1.38" fill="#000"/><rect x="805.78" y="553.82" width="4.51" height="1.38" fill="#000"/><rect x="805.78" y="560.33" width="4.51" height="1.38" fill="#000"/><rect x="702.54" y="674.02" width="4.51" height="1.38" fill="#000"/><rect x="702.54" y="680.52" width="4.51" height="1.38" fill="#000"/><rect x="758.82" y="674.02" width="4.51" height="1.38" fill="#000"/><rect x="758.82" y="680.52" width="4.51" height="1.38" fill="#000"/><rect x="686.93" y="695.12" width="4.51" height="1.38" fill="#000"/><rect x="686.93" y="701.62" width="4.51" height="1.38" fill="#000"/><rect x="549.55" y="759.12" width="4.51" height="1.38" fill="#000"/><rect x="549.55" y="765.62" width="4.51" height="1.38" fill="#000"/><rect x="459.29" y="778.02" width="4.51" height="1.38" fill="#000"/><rect x="459.29" y="784.52" width="4.51" height="1.38" fill="#000"/></g><defs><path id="tp1" d="M437.24,434.8 A66.2,66.2 0 0 1 538.4,362.38"/><path id="tp2" d="M449.5,404.06 A53.1,53.1 0 0 1 548.77,393.81"/><path id="tp3" d="M467.7,358.86 A67,67 0 0 1 563.88,440.13"/><path id="tp4" d="M527.28,336.59 A84.6,84.6 0 0 1 532.55,495.49"/><path id="tp5" d="M461.34,470.01 A66.2,66.2 0 0 1 497.3,350.9"/><path id="tp6" d="M455.87,360.26 A72.5,72.5 0 0 0 499.1,489.48"/><path id="tp7" d="M429.75,405.33 A72.2,72.2 0 0 0 548.08,471.74"/></defs>
</svg>
</body></html>
